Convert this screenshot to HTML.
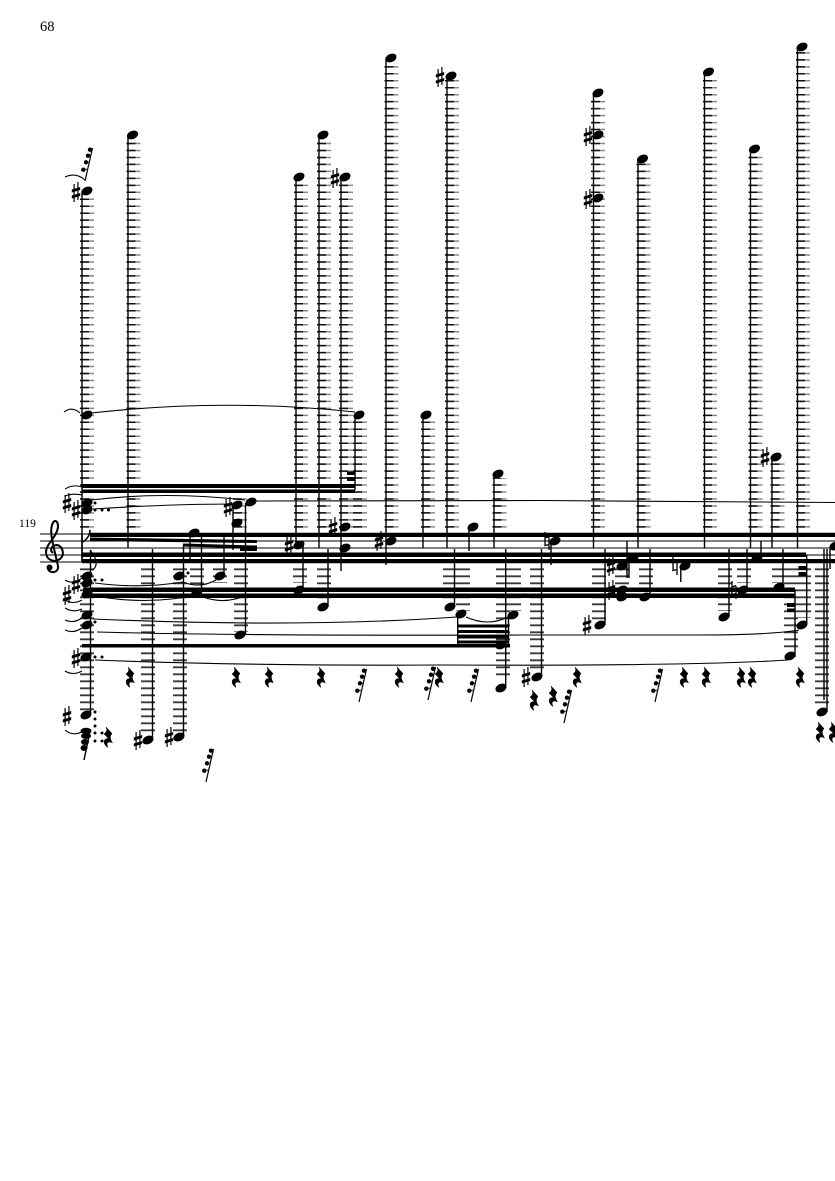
<!DOCTYPE html>
<html><head><meta charset="utf-8"><style>
html,body{margin:0;padding:0;background:#fff}
svg{display:block}
.s{stroke:#000;stroke-width:1.4;fill:none}
.b{fill:#000}
.c{stroke:#000;stroke-width:1.1;fill:none}
.t{font-family:"Liberation Serif",serif;fill:#000}
</style></head><body>
<svg width="835" height="1181" viewBox="0 0 835 1181" xmlns="http://www.w3.org/2000/svg">
<defs>
<ellipse id="n" cx="0" cy="0" rx="5.8" ry="4.1" transform="rotate(-24)"/>
<g id="sh"><path d="M-1.9,-8V10M1.9,-10V8" stroke="#000" stroke-width="1.2"/><path d="M-4.2,-2.500L4.200,-5V-2L-4.200,.5ZM-4.200,3.500L4.200,1V4L-4.200,6.500Z" fill="#000"/></g>
<g id="na"><path d="M-2,-9V4.500L2,3.500M2,-4V9M-2,-3L2,-4.500" stroke="#000" stroke-width="1.300" fill="none"/></g>
<path id="r" d="M-2,-10L4,-3.500C2,-1 1.500,1 4.500,6C1,4 -2.500,5 0,10.500C-5.500,7 -5,1 .5,1.500L-4,-3C-1.500,-5 -.5,-6.500 -2,-10Z" stroke="#000" stroke-width=".5"/>
<g id="g"><path d="M0,33L7.500,0" stroke="#000" stroke-width="1.200"/><circle cx="-1.700" cy="21.700" r="2.200"/><circle cx="1" cy="14.300" r="2.200"/><circle cx="3" cy="7.700" r="2.200"/><circle cx="5" cy="1.700" r="2.200"/><path d="M-1,21.200H2.500M1.500,14H4M3.500,7.500H5.500M5,1.500H7" stroke="#000" stroke-width=".8"/></g>
<path id="up" d="M87,527.600V195M133.500,527.600V139M301,527.600V181M324,527.600V139M346,527.600V181M360,527.600V419M428,527.600V419M391.500,527.600V62M452,527.600V80M499.500,527.600V478M598,527.600V97M643.500,527.600V163M710,527.600V76M755.500,527.600V153M777.500,527.600V461M803,527.600V51M240,527.600V498" fill="none"/>
</defs>
<rect width="835" height="1181" fill="#fff"/>
<text class="t" x="40" y="31" font-size="14.5">68</text>
<text class="t" x="19" y="527" font-size="11.5">119</text>

<!-- staff -->
<path d="M40,534H835M40,541H835M40,548H835M40,555H835M40,562H835" stroke="#000" stroke-width="1"/>

<!-- ledger columns above -->
<use href="#up" stroke="#888" stroke-width="14" stroke-dasharray="1.500 5.470"/>
<use href="#up" x="-2.500" stroke="#111" stroke-width="9" stroke-dasharray="1.500 5.470"/>

<!-- ledger columns below -->
<g transform="translate(0,1096) scale(1,-1)"><path stroke="#3a3a3a" stroke-width="14" stroke-dasharray="1.900 5.100" fill="none" d="M87,527.600V381M148,527.600V363M180,527.600V363M197,527.600V506M220,527.600V513M241,527.600V464M300,527.600V513M324,527.600V496M450,527.600V496M463,527.600V485M503,527.600V416M514,527.600V485M537,527.600V426M599,527.600V476M622,527.600V506M646,527.600V506M725,527.600V485M744,527.600V513M779,527.600V513M791,527.600V446M804,527.600V478M822,527.600V391"/></g>

<!-- stems -->
<path class="s" d="M82,191V562M128,135V548M296,177V548M319,135V548M341,177V571M355,415V490M386,58V565M423,415V548M447,76V548M494,474V548M593.500,93V548M638,159V548M704.500,72V548M750.500,149V548M772,457V548M797.500,47V548
M90.500,550V714M152.500,549V740M183.500,545V737M190,533V559M201.500,535V592M224,535V575M233,505V550M245.500,503V635M303,545V590M328,549V607M469,527V551M454.500,549V607M457.700,614V646M505.700,549V688M508.500,615V646M541.500,549V677M551,541V565M605,549V625M627,541V578M629,558V578M650,549V597M680.800,566V582M729,549V617M747,549V590M761,541V558M783,549V587M795,590V657M806.700,555V625M827,549V712M824,549V700M830,549V569"/>

<!-- beams -->
<path class="b" d="M90,532.700H835V537H90ZM90,537.500L257,540V543L90,541ZM183,543.500L257,545.500V548.500L183,546.500ZM240,548.500H257V551H240ZM82,552.500H806V557H82ZM82,559H835V563.300H82Z
M83,587.500H795V592H83ZM83,593.500H795V598H83ZM82,644H510V647.500H82ZM82,484H355V488H82ZM82,489.500H355V493H82ZM347,471.500H355V475H347ZM347,477H355V481H347Z
M457.700,624.500H508.500V627.500H457.700ZM457.700,630H508.500V633H457.700ZM457.700,635.500H508.500V638.500H457.700ZM457.700,640.500H508.500V643.500H457.700Z
M787,603H795V607H787ZM787,608.500H795V612H787ZM798.500,566H806.500V570H798.500ZM798.500,572H806.500V576H798.500Z"/>

<!-- noteheads -->
<g class="b">
<use href="#n" x="87" y="191"/><use href="#n" x="132.500" y="135"/><use href="#n" x="299" y="177"/><use href="#n" x="323" y="135"/><use href="#n" x="345" y="177"/><use href="#n" x="87" y="415"/><use href="#n" x="359" y="415"/><use href="#n" x="391" y="58"/><use href="#n" x="451" y="76"/><use href="#n" x="426" y="415"/><use href="#n" x="498" y="474"/><use href="#n" x="598" y="93"/><use href="#n" x="598" y="135"/><use href="#n" x="598" y="198"/><use href="#n" x="642.500" y="159"/><use href="#n" x="708.500" y="72"/><use href="#n" x="754.500" y="149"/><use href="#n" x="776" y="457"/><use href="#n" x="802" y="47"/>
<use href="#n" x="87" y="503"/><use href="#n" x="87" y="510"/><use href="#n" x="237" y="505"/><use href="#n" x="251" y="502"/><use href="#n" x="237" y="523"/>
<use href="#n" x="194" y="533"/><use href="#n" x="299" y="545"/><use href="#n" x="345" y="527"/><use href="#n" x="345" y="548"/><use href="#n" x="391" y="541"/><use href="#n" x="473" y="527"/><use href="#n" x="555" y="541"/>
<use href="#n" x="87" y="576"/><use href="#n" x="87" y="583"/><use href="#n" x="87" y="594"/><use href="#n" x="87" y="615"/><use href="#n" x="87" y="625"/><use href="#n" x="86" y="657"/><use href="#n" x="86" y="715"/>
<use href="#n" x="148" y="740"/><use href="#n" x="179" y="737"/><use href="#n" x="179" y="576"/><use href="#n" x="197" y="592"/><use href="#n" x="220" y="576"/><use href="#n" x="240" y="635"/>
<use href="#n" x="299" y="590"/><use href="#n" x="323" y="607"/><use href="#n" x="450" y="607"/><use href="#n" x="461" y="614"/><use href="#n" x="513" y="615"/><use href="#n" x="501" y="645"/><use href="#n" x="501" y="688"/><use href="#n" x="537" y="677"/>
<use href="#n" x="600" y="625"/><use href="#n" x="622" y="566"/><use href="#n" x="633" y="558"/><use href="#n" x="622" y="590"/><use href="#n" x="622" y="597"/><use href="#n" x="645" y="597"/><use href="#n" x="685" y="566"/><use href="#n" x="724" y="617"/><use href="#n" x="743" y="590"/><use href="#n" x="757" y="558"/><use href="#n" x="779" y="587"/><use href="#n" x="790" y="656"/><use href="#n" x="802" y="625"/><use href="#n" x="822" y="712"/><use href="#n" x="835" y="546"/>
<ellipse cx="86" cy="731" rx="5.500" ry="3.200"/><ellipse cx="86" cy="736" rx="5" ry="3"/><ellipse cx="85" cy="742" rx="4" ry="3"/><ellipse cx="84" cy="748" rx="3.500" ry="3"/><path d="M84,760L90.500,729" stroke="#000" stroke-width="1.400"/>
<circle cx="95" cy="503" r="1.500"/><circle cx="95" cy="510" r="1.500"/><circle cx="102" cy="510" r="1.500"/><circle cx="108.500" cy="510" r="1.500"/><circle cx="95" cy="580" r="1.500"/><circle cx="102" cy="580" r="1.500"/><circle cx="95" cy="622" r="1.500"/><circle cx="95" cy="657" r="1.500"/><circle cx="102" cy="657" r="1.500"/><circle cx="188" cy="573" r="1.500"/>
<circle cx="95" cy="712" r="1.500"/><circle cx="95" cy="719" r="1.500"/><circle cx="95" cy="726" r="1.500"/><circle cx="95" cy="733" r="1.500"/><circle cx="95" cy="741" r="1.500"/><circle cx="102" cy="733" r="1.500"/><circle cx="102" cy="741" r="1.500"/>
</g>

<!-- accidentals -->
<g>
<use href="#sh" x="76" y="192"/><use href="#sh" x="335" y="178"/><use href="#sh" x="440" y="77"/><use href="#sh" x="588" y="136"/><use href="#sh" x="588" y="199"/><use href="#sh" x="765" y="457"/>
<use href="#sh" x="67" y="503"/><use href="#sh" x="76" y="510"/><use href="#sh" x="228" y="507"/><use href="#sh" x="289" y="545"/><use href="#sh" x="333" y="527"/><use href="#sh" x="379" y="541"/>
<use href="#sh" x="76" y="584"/><use href="#sh" x="67" y="595"/><use href="#sh" x="76" y="658"/><use href="#sh" x="67" y="716"/><use href="#sh" x="138" y="740"/><use href="#sh" x="169" y="737"/><use href="#sh" x="526" y="677"/><use href="#sh" x="587" y="625"/><use href="#sh" x="611" y="566"/><use href="#sh" x="611" y="590"/>
<use href="#na" x="547" y="541"/><use href="#na" x="675" y="566"/><use href="#na" x="734" y="590"/>
</g>

<!-- rests -->
<g class="b">
<use href="#r" x="130" y="677"/><use href="#r" x="236" y="677"/><use href="#r" x="269" y="677"/><use href="#r" x="321" y="677"/><use href="#r" x="399" y="677"/><use href="#r" x="439" y="677"/><use href="#r" x="577" y="677"/><use href="#r" x="684" y="677"/><use href="#r" x="706" y="677"/><use href="#r" x="741" y="677"/><use href="#r" x="752" y="677"/><use href="#r" x="800" y="677"/>
<use href="#r" x="534" y="700"/><use href="#r" x="553" y="696"/><use href="#r" x="108" y="737"/><use href="#r" x="820" y="732"/><use href="#r" x="833" y="732"/>
</g>

<!-- grace groups -->
<g class="b">
<use href="#g" x="85" y="148"/><use href="#g" x="359" y="669"/><use href="#g" x="428" y="667"/><use href="#g" x="471" y="669"/><use href="#g" x="564" y="690"/><use href="#g" x="655" y="669"/><use href="#g" x="206" y="749"/>
</g>

<!-- slurs, ties -->
<g class="c">
<path d="M91,413Q225,398 355,412"/>
<path d="M91,500Q165,491 245,500"/>
<path d="M93,509Q170,504 235,504"/>
<path d="M256,501L540,500.500L835,502.500"/>
<path d="M95,583Q140,589 183,582"/>
<path d="M183,582Q200,589 216,580"/>
<path d="M90,595Q145,606 197,595"/>
<path d="M203,597Q225,605 247,595"/>
<path d="M93,619Q300,628 457,617"/>
<path d="M466,617Q488,627 508,617"/>
<path d="M97,632Q240,636 520,635L700,635Q770,635 799,630"/>
<path d="M95,660Q250,666 440,665Q700,666 787,660"/>
<path d="M64,412Q72,406 80,413"/>
<path d="M65,489Q73,484 82,487"/>
<path d="M65,496Q73,493 82,495"/>
<path d="M65,580Q73,585 82,578"/>
<path d="M65,600Q73,605 82,600"/>
<path d="M65,608Q73,613 82,609"/>
<path d="M65,620Q73,624 82,618"/>
<path d="M65,630Q73,634 82,628"/>
<path d="M65,671Q73,676 82,671"/>
<path d="M65,730Q73,737 84,731"/>
<path d="M65,177Q76,172 85,180"/>
<path d="M90,530Q90,537 83,542" stroke-width="1.500"/>
<path d="M90,550Q97,558 96,565Q95,569 92,570" stroke-width="1.200"/>
</g>

<!-- clef -->
<path d="M53,553C49,550 52,545 57,545C63,546 65,555 60,559C54,563 46,560 46,552C46,544 57,537 58,527C58,520 54,519 52,525C50,532 52,540 55,553L58,566C59,573 50,574 48,569" stroke="#000" stroke-width="2" fill="none"/>
<circle cx="49.500" cy="567.500" r="3"/>
<path d="M82,534V562" stroke="#000" stroke-width="1.500"/>
</svg>
</body></html>
